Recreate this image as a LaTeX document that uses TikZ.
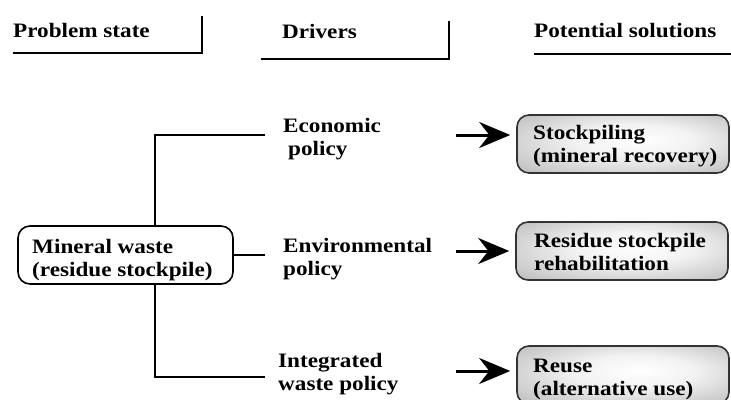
\documentclass[tikz,border=0pt]{standalone}
\usepackage{fontspec}
\setmainfont{Liberation Serif}[FakeStretch=1.13]
\usetikzlibrary{arrows.meta}
\pgfdeclareradialshading{solshade}{\pgfpoint{4bp}{4bp}}{color(0bp)=(white); color(14bp)=(white!95!black); color(44bp)=(black!33); color(50bp)=(black!38)}
\begin{document}
\begin{tikzpicture}[x=1pt,y=-1pt,
  every node/.style={font=\fontsize{20.5}{22.5}\selectfont\bfseries, inner sep=0pt},
  hdr/.style={anchor=base west},
  txt/.style={anchor=base west, align=left},
  rulestyle/.style={line width=2.6pt},
  conn/.style={line width=2pt},
  probbox/.style={draw=black, line width=1.6pt, rounded corners=12pt, fill=white, minimum width=215pt, minimum height=58pt},
  solbox/.style={draw=black!80, line width=1.6pt, rounded corners=12pt, shading=solshade, minimum width=212pt, minimum height=58pt},
  arr/.style={line width=3pt, -{Stealth[length=31pt,width=26pt]}, shorten >=6pt},
]
\useasboundingbox (0,0) rectangle (731,399);
% headers
\node[hdr] (h1) at (13,37) {Problem state};
\node[hdr] (h2) at (282,38) {Drivers};
\node[hdr] (h3) at (534,37) {Potential solutions};
\draw[rulestyle] (13,53) -- (202,53) -- (202,16);
\draw[rulestyle] (261,59) -- (449,59) -- (449,21);
\draw[rulestyle] (534,54) -- (731,54);
% problem box
\node[probbox] (mw) at (125.5,255) {};
\node[txt] (mwt) at (32,276) {Mineral waste\\(residue stockpile)};
% drivers
\node[txt] (d1) at (283,155) {Economic\\\hspace*{5pt}policy};
\node[txt] (d2) at (283,275) {Environmental\\policy};
\node[txt] (d3) at (278,390) {Integrated\\waste policy};
% tree connectors
\coordinate (tx) at (155,0);
\coordinate (t1) at (265,135);
\coordinate (t2) at (265,255);
\coordinate (t3) at (265,377);
\draw[conn] (mw.north -| tx) |- (t1);
\draw[conn] (mw.south -| tx) |- (t3);
\draw[conn] (mw.east) -- (t2);
% solution boxes
\node[solbox] (s1) at (623,144) {};
\node[solbox] (s2) at (622,251) {};
\node[solbox] (s3) at (623,375) {};
\node[txt] (s1t) at (533,162) {Stockpiling\\(mineral recovery)};
\node[txt] (s2t) at (534,270) {Residue stockpile\\rehabilitation};
\node[txt] (s3t) at (533,395) {Reuse\\(alternative use)};
% arrows
\coordinate (a1) at (456,135);
\coordinate (a2) at (456,251);
\coordinate (a3) at (456,371);
\draw[arr] (a1) -- (a1 -| s1.west);
\draw[arr] (a2) -- (a2 -| s2.west);
\draw[arr] (a3) -- (a3 -| s3.west);
\end{tikzpicture}
\end{document}
